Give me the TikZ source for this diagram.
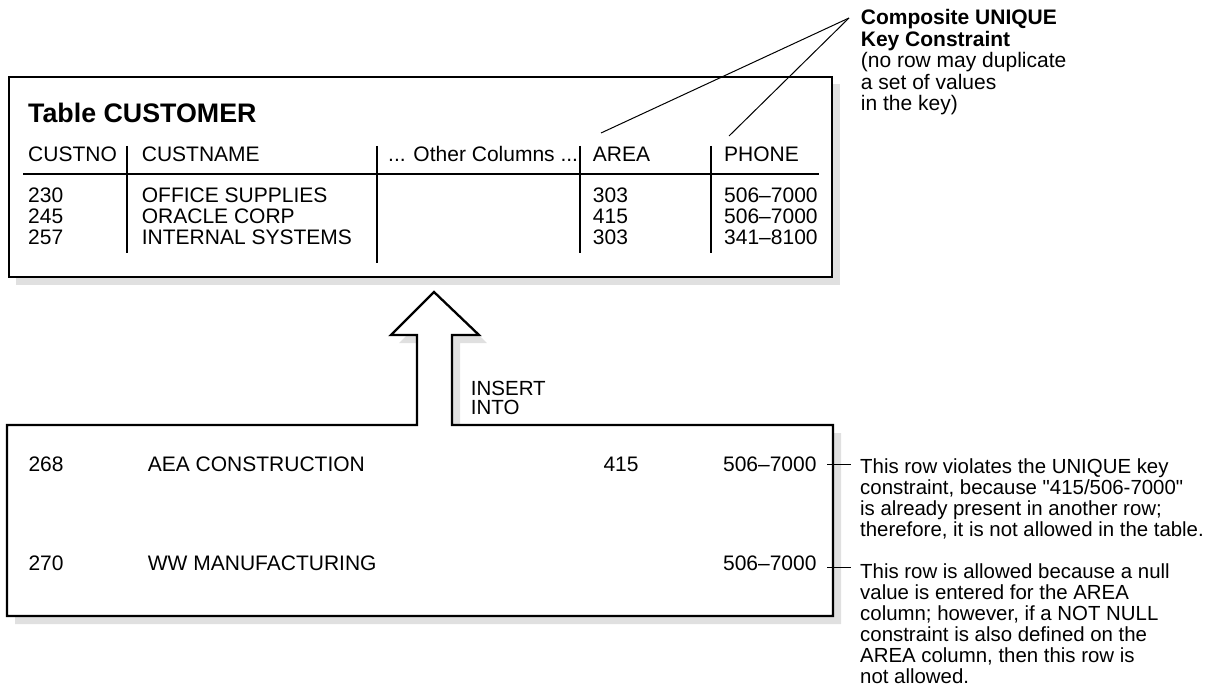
\documentclass[tikz,border=0pt]{standalone}
\usepackage{fontspec}
\setmainfont{Liberation Sans}
\newfontfamily\qfont{Liberation Sans}
\newcommand{\mlines}[1]{\begin{tabular}[t]{@{}l@{}}#1\end{tabular}}
\newcommand{\sq}{{\qfont\symbol{34}}}
\definecolor{shadowgray}{RGB}{224,224,224}
\begin{document}
\begin{tikzpicture}[x=1pt,y=-1pt,
  txt/.style={inner sep=0pt, anchor=base west, font=\fontsize{21}{20}\selectfont},
  note/.style={inner sep=0pt, anchor=base west, font=\fontsize{20.4}{21}\selectfont},
  boxline/.style={line width=2.3pt, line join=miter},
  sepline/.style={line width=2.3pt},
  thinline/.style={line width=1pt},
  shadow/.style={fill=shadowgray, draw=none}]
\useasboundingbox (0,0) rectangle (1213,687);

% ---- top table ----
\fill[shadow] (16,84) rectangle (840,285);
\draw[boxline, fill=white] (9,77) rectangle (832,277);

\node[inner sep=0pt, anchor=base west, font=\fontsize{26.8}{26}\selectfont\bfseries] (title) at (28,123) {Table CUSTOMER};

\node[txt] (hcustno) at (28,161.7) {CUSTNO};
\node[txt] (hcustname) at (141.7,161.7) {CUSTNAME};
\node[txt] (hother) at (388,161.7) {... Other Columns ...};
\node[txt] (harea) at (592.7,161.7) {AREA};
\node[txt] (hphone) at (724,161.7) {PHONE};

\draw[sepline] (23,174) -- (819,174);
\draw[sepline] (127,146) -- (127,253);
\draw[sepline] (377,146) -- (377,263);
\draw[sepline] (580,146) -- (580,253);
\draw[sepline] (711,146) -- (711,253);

\node[txt] (dno) at (28,203) {\mlines{230\\245\\257}};
\node[txt] (dname) at (141.7,203) {\mlines{OFFICE SUPPLIES\\ORACLE CORP\\INTERNAL SYSTEMS}};
\node[txt] (darea) at (592.7,203) {\mlines{303\\415\\303}};
\node[txt] (dphone) at (724,203) {\mlines{506–7000\\506–7000\\341–8100}};

% ---- composite key label ----
\node[inner sep=0pt, anchor=base west, font=\fontsize{21}{20.5}\selectfont] (lbl) at (860.7,25)
  {\mlines{\textbf{Composite UNIQUE}\\\textbf{Key Constraint}\\(no row may duplicate\\a set of values\\in the key)}};
\coordinate (conv) at (849,18);
\coordinate (areatip) at (601,133);
\coordinate (phonetip) at (729,136);
\draw[thinline] (conv) -- (areatip);
\draw[thinline] (conv) -- (phonetip);

% ---- insert box with arrow ----
\def\insertpath{(7,425) -- (417,425) -- (417,335) -- (391,335) -- (434,292) -- (479,335) -- (452,335) -- (452,425) -- (833,425) -- (833,616) -- (7,616) -- cycle}
\fill[shadow, shift={(8,8)}] \insertpath;
\draw[boxline, fill=white] \insertpath;

\node[inner sep=0pt, anchor=base west, font=\fontsize{20.5}{18.5}\selectfont] (insert) at (470.7,395) {\mlines{INSERT\\INTO}};

\node[txt] (r1no) at (28.3,471.7) {268};
\node[txt] (r1name) at (147.7,471.7) {AEA CONSTRUCTION};
\node[txt] (r1area) at (603.3,471.7) {415};
\node[txt, anchor=base east] (r1phone) at (816.7,471.7) {506–7000};

\node[txt] (r2no) at (28.3,570) {270};
\node[txt] (r2name) at (147.7,570) {WW MANUFACTURING};
\node[txt, anchor=base east] (r2phone) at (816.7,570) {506–7000};

% ---- annotations ----
\coordinate (c1a) at (827,464.3);
\coordinate (c1b) at (851,464.3);
\coordinate (c2a) at (827,567.7);
\coordinate (c2b) at (851,567.7);
\draw[thinline] (c1a) -- (c1b);
\draw[thinline] (c2a) -- (c2b);

\node[note] (n1) at (860,473) {\mlines{This row violates the UNIQUE key\\constraint, because \sq 415/506-7000\sq\\is already present in another row;\\therefore, it is not allowed in the table.}};
\node[note] (n2) at (860,578) {\mlines{This row is allowed because a null\\value is entered for the AREA\\column; however, if a NOT NULL\\constraint is also defined on the\\AREA column, then this row is\\not allowed.}};
\end{tikzpicture}
\end{document}
